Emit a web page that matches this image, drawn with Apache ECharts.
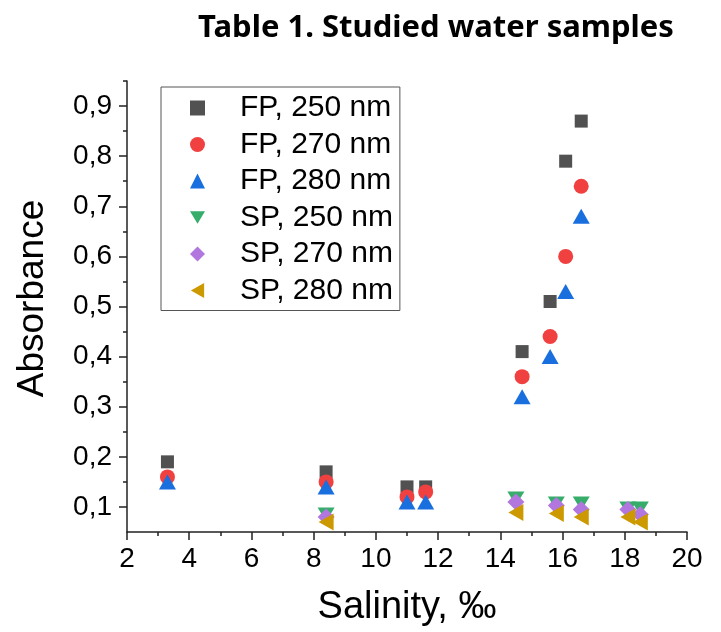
<!DOCTYPE html>
<html>
<head>
<meta charset="utf-8">
<script src="https://cdn.jsdelivr.net/npm/echarts@6/dist/echarts.min.js"></script>
<style>
  html, body { margin: 0; padding: 0; background: #fff; }
  #chart { width: 721px; height: 632px; }
</style>
</head>
<body>
<div id="chart"></div>
<script>
// FP = first point set, SP = second; salinity in ‰
const fpSalinity = [3.3, 8.4, 11.0, 11.6, 14.7, 15.6, 16.1, 16.6];
const fp250 = [0.19, 0.17, 0.14, 0.14, 0.41, 0.51, 0.79, 0.87];
const fp270 = [0.16, 0.15, 0.12, 0.13, 0.36, 0.44, 0.60, 0.74];
const fp280 = [0.15, 0.14, 0.11, 0.11, 0.32, 0.40, 0.53, 0.68];

const spSalinity = [8.4, 14.5, 15.8, 16.6, 18.1, 18.5];
const sp250 = [0.085, 0.117, 0.107, 0.107, 0.097, 0.097];
const sp270 = [0.08, 0.11, 0.103, 0.095, 0.095, 0.085];
const sp280 = [0.07, 0.089, 0.087, 0.08, 0.08, 0.07];

const yMajor = [0.1, 0.2, 0.3, 0.4, 0.5, 0.6, 0.7, 0.8, 0.9];
const yMinor = [0.15, 0.25, 0.35, 0.45, 0.55, 0.65, 0.75, 0.85, 0.95];

function pairs(xs, ys) {
    return xs.map(function (x, i) { return [x, ys[i]]; });
}

const chart = echarts.init(document.getElementById('chart'));

const axisColor = '#222';
const font = 'Liberation Sans, Arial, sans-serif';

// legend does not pick up the rotation, so give those two their own shapes
const downTriangle = 'path://M0,0 L17,0 L8.5,14 Z';
const leftTriangle = 'path://M0,8.5 L15,0 L15,17 Z';

function scatter(name, data, symbol, size, color, rotate) {
    return {
        name: name,
        type: 'scatter',
        data: data,
        symbol: symbol,
        symbolSize: size,
        symbolRotate: rotate || 0,
        itemStyle: { color: color, opacity: 1 },
        emphasis: { disabled: true }
    };
}

const option = {
    animation: false,
    title: {
        text: 'Table 1. Studied water samples',
        left: 431,
        top: 8,
        textAlign: 'center',
        textStyle: {
            fontFamily: 'Noto Sans',
            fontWeight: 'bold',
            fontSize: 31,
            color: '#000'
        }
    },
    grid: {
        left: 127,
        right: 34,
        top: 81,
        bottom: 100
    },
    legend: {
        orient: 'vertical',
        left: 161,
        top: 87,
        padding: [6, 7, 5, 29],
        itemWidth: 15,
        itemHeight: 15,
        itemGap: 6.5,
        borderColor: '#555',
        borderWidth: 1,
        textStyle: {
            fontFamily: font,
            fontSize: 30,
            lineHeight: 30,
            color: '#000',
            padding: [0, 0, 0, 30]
        },
        data: [
            { name: 'FP, 250 nm' },
            { name: 'FP, 270 nm' },
            { name: 'FP, 280 nm' },
            { name: 'SP, 250 nm', icon: downTriangle },
            { name: 'SP, 270 nm' },
            { name: 'SP, 280 nm', icon: leftTriangle }
        ]
    },
    xAxis: {
        type: 'value',
        min: 2,
        max: 20,
        interval: 2,
        name: 'Salinity, ‰',
        nameLocation: 'middle',
        nameGap: 57,
        nameTextStyle: { fontFamily: font, fontSize: 38, color: '#000' },
        axisLine: { show: true, onZero: false, lineStyle: { color: axisColor, width: 1.5 } },
        axisTick: { show: true, inside: false, length: 8, lineStyle: { color: axisColor, width: 1.5 } },
        minorTick: { show: true, splitNumber: 2, length: 4, lineStyle: { color: axisColor, width: 1.5 } },
        axisLabel: { fontFamily: font, fontSize: 28, color: '#000', margin: 13 },
        splitLine: { show: false }
    },
    yAxis: [
        {
            type: 'value',
            min: 0.05,
            max: 0.95,
            interval: 0.05,
            name: 'Absorbance',
            nameLocation: 'middle',
            nameGap: 76,
            nameTextStyle: { fontFamily: font, fontSize: 37, color: '#000', padding: [0, 0, 0, 16] },
            axisLine: { show: true, onZero: false, lineStyle: { color: axisColor, width: 1.5 } },
            axisTick: {
                show: true,
                length: 8,
                customValues: yMajor,
                lineStyle: { color: axisColor, width: 1.5 }
            },
            axisLabel: {
                fontFamily: font,
                fontSize: 28,
                color: '#000',
                margin: 15,
                customValues: yMajor,
                formatter: function (v) { return v.toFixed(1).replace('.', ','); }
            },
            splitLine: { show: false }
        },
        {
            // minor ticks only
            type: 'value',
            position: 'left',
            min: 0.05,
            max: 0.95,
            interval: 0.05,
            axisLine: { show: false },
            axisTick: {
                show: true,
                length: 4,
                customValues: yMinor,
                lineStyle: { color: axisColor, width: 1.5 }
            },
            axisLabel: { show: false },
            splitLine: { show: false }
        }
    ],
    series: [
        scatter('FP, 250 nm', pairs(fpSalinity, fp250), 'rect', 13, '#515151'),
        scatter('FP, 270 nm', pairs(fpSalinity, fp270), 'circle', 15, '#F14040'),
        scatter('FP, 280 nm', pairs(fpSalinity, fp280), 'triangle', [17, 15], '#1A6FDF'),
        scatter('SP, 250 nm', pairs(spSalinity, sp250), 'triangle', [17, 14], '#37AD6B', 180),
        scatter('SP, 270 nm', pairs(spSalinity, sp270), 'diamond', [17, 17], '#B177DE'),
        scatter('SP, 280 nm', pairs(spSalinity, sp280), 'triangle', [17, 15], '#CC9900', 90)
    ]
};

chart.setOption(option);

window.addEventListener('resize', function () {
    chart.resize();
});
</script>
</body>
</html>
